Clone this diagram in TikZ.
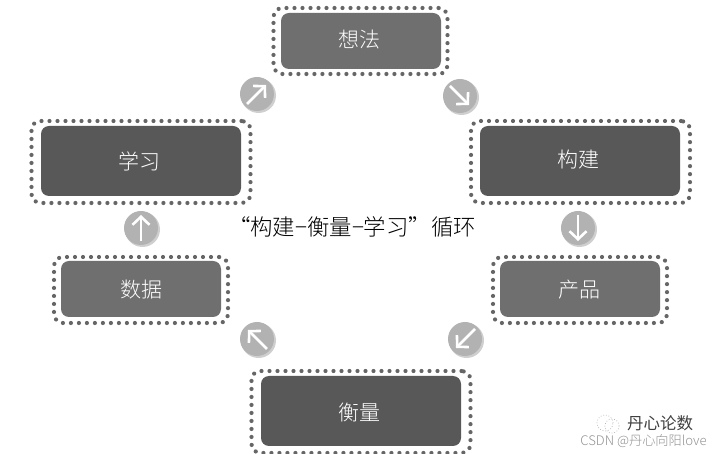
\documentclass[tikz,border=0pt]{standalone}
\usepackage{fontspec}
\setmainfont{Liberation Sans}
\newfontfamily\cjk{Noto Sans CJK SC}
\newfontfamily\cjklight{Noto Sans CJK SC Light}
\usetikzlibrary{arrows.meta}
\definecolor{smallbox}{HTML}{6F6F6F}
\definecolor{bigbox}{HTML}{585858}
\definecolor{dotc}{HTML}{666666}
\definecolor{badge}{HTML}{B2B2B2}
\definecolor{badgeshadow}{HTML}{CFCFCF}
\tikzset{
  x=1pt,y=-1pt,
  frame/.style={draw=dotc,line width=4.2pt,line cap=round,dash pattern=on 0pt off 8pt,rounded corners=9pt,minimum width=#1,inner sep=0pt},
  core/.style={rounded corners=8pt,text=white,inner sep=0pt,font=\cjklight\fontsize{21}{21}\selectfont,minimum width=#1},
  smallcore/.style={core=160pt,fill=smallbox,minimum height=56pt},
  bigcore/.style={core=200pt,fill=bigbox,minimum height=70pt},
  smallframe/.style={frame=174pt,minimum height=66pt},
  bigframe/.style={frame=219pt,minimum height=82pt},
  badgecircle/.style={circle,fill=badge,minimum size=34pt,inner sep=0pt},
  badgeglow/.style={circle,fill=badgeshadow,minimum size=35pt,inner sep=0pt},
  icon/.style={draw=white,line width=2.6pt,-{Straight Barb[length=8pt,width=17pt,line width=2.6pt]}},
}
\newcommand{\boxlabel}[2]{\raisebox{#1}[0pt][0pt]{#2}}
\begin{document}
\begin{tikzpicture}
\useasboundingbox (0,0) rectangle (716,454);
\fill[white] (0,0) rectangle (716,454);
% boxes
\node[smallframe] (fa) at (360.5,41) {};
\node[smallcore] (a) at (361,41) {\hspace*{-3pt}\boxlabel{-6.5pt}{想法}};
\node[bigframe] (fb) at (580.5,162) {};
\node[bigcore] (b) at (580,161) {\hspace*{-3pt}\boxlabel{-6.5pt}{构建}};
\node[smallframe] (fc) at (580,290) {};
\node[smallcore] (c) at (580,289) {\hspace*{-2pt}\boxlabel{-8.5pt}{产品}};
\node[bigframe] (fd) at (361,412) {};
\node[bigcore] (d) at (361,411) {\hspace*{-4pt}\boxlabel{-9.5pt}{衡量}};
\node[smallframe] (fe) at (141,290) {};
\node[smallcore] (e) at (141,289) {\boxlabel{-8.5pt}{数据}};
\node[bigframe] (ff) at (141,162) {};
\node[bigcore] (f) at (141,161) {\hspace*{-2pt}\boxlabel{-8.5pt}{学习}};
% badges
\foreach \n/\x/\y/\dx/\dy in {p/257/94/1/-1,q/460/96/1/1,r/578/228/0/1,s/465/339/-1/1,t/257/339/-1/-1,u/141/228/0/-1}{
  \node[badgeglow] (\n s) at (\x+1.5,\y+1.5) {};
  \node[badgecircle] (\n) at (\x,\y) {};
  \ifnum\dx=0
    \coordinate (\n a) at (\x,\y-\dy*13);
    \coordinate (\n b) at (\x,\y+\dy*13);
  \else
    \coordinate (\n a) at (\x-\dx*10,\y-\dy*10);
    \coordinate (\n b) at (\x+\dx*9,\y+\dy*9);
  \fi
  \draw[icon] (\n a) -- (\n b);
}
% caption
\node[font=\cjklight\fontsize{22.4}{22.4}\selectfont,inner sep=0pt] (cap) at (352,227) {“构建−衡量−学习”循环};
% watermark
\coordinate (w1) at (605,423);
\coordinate (w2) at (612,426);
\draw[gray!60,line width=.7pt,dotted] (w1) circle (8pt);
\draw[gray!60,line width=.7pt,dotted] (w2) circle (7pt);
\node[anchor=west,inner sep=0pt,text=black!75,font=\cjk\fontsize{16.5}{16.5}\selectfont] (wm) at (627,423) {丹心论数};
\node[anchor=east,inner sep=0pt,text=gray!85,font=\cjklight\fontsize{13.2}{13.2}\selectfont] (wn) at (707,441) {CSDN @丹心向阳love};
\end{tikzpicture}
\end{document}
